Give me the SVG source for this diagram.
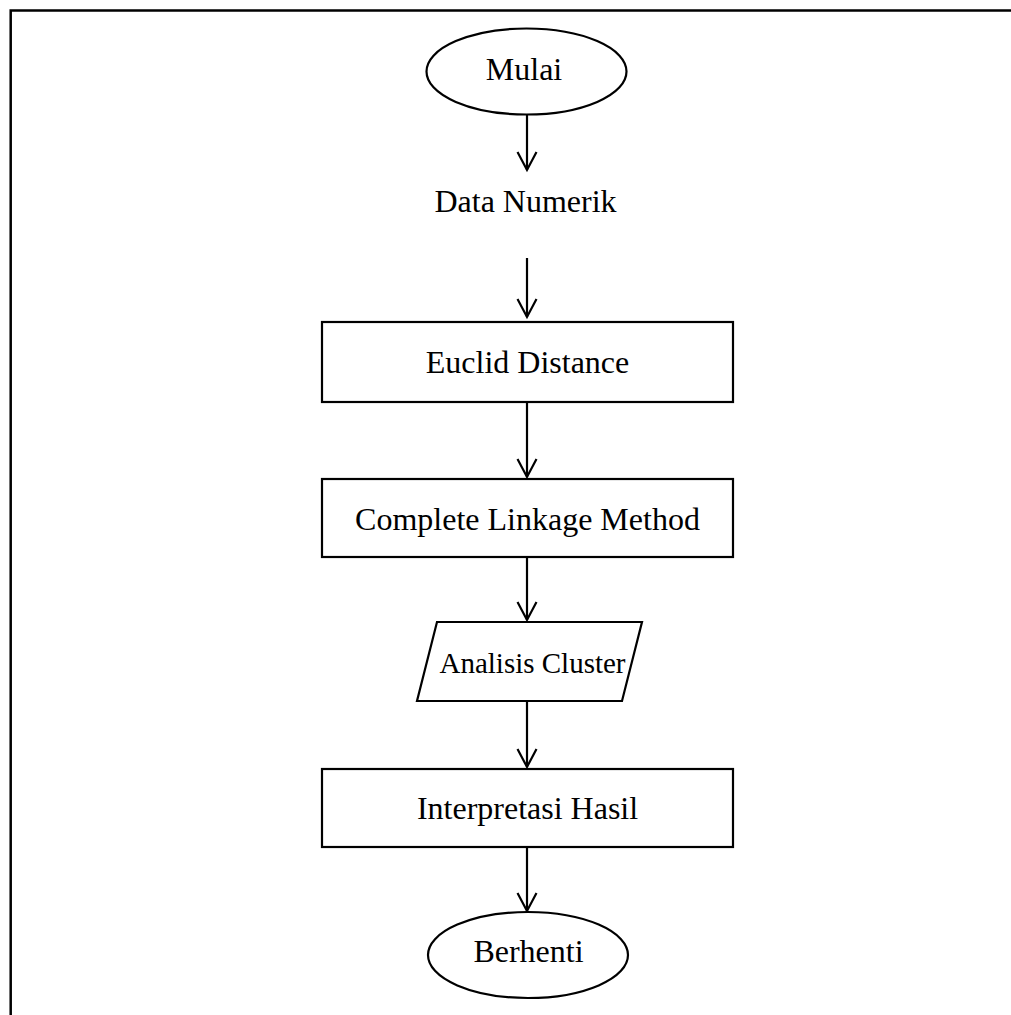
<svg xmlns="http://www.w3.org/2000/svg" width="1011" height="1015" viewBox="0 0 1011 1015">
<style>
.shape{fill:#fff;stroke:#000;stroke-width:2.2}
.t{font-family:"Liberation Serif","Times New Roman",serif;font-size:32px;fill:#000;text-anchor:middle}
.conn line,.conn path{stroke:#000;stroke-width:2.2;fill:none}
</style>
<rect width="1011" height="1015" fill="#fff"/>
<g id="frame"><path d="M10.7 1015 V10.5 H1011" fill="none" stroke="#000" stroke-width="2.5"/></g>
<g class="conn" id="connectors">
<line x1="527" y1="115" x2="527" y2="170"/><path d="M517.5 152 L527 170 L536.5 152"/>
<line x1="527" y1="258" x2="527" y2="317"/><path d="M517.5 299 L527 317 L536.5 299"/>
<line x1="527" y1="402" x2="527" y2="477"/><path d="M517.5 459 L527 477 L536.5 459"/>
<line x1="527" y1="557" x2="527" y2="620"/><path d="M517.5 602 L527 620 L536.5 602"/>
<line x1="527" y1="701" x2="527" y2="767"/><path d="M517.5 749 L527 767 L536.5 749"/>
<line x1="527" y1="847" x2="527" y2="911"/><path d="M517.5 893 L527 911 L536.5 893"/>
</g>
<g id="mulai"><ellipse class="shape" cx="526.5" cy="71.5" rx="100" ry="43"/><text class="t" x="524" y="80">Mulai</text></g>
<g id="data-numerik"><text class="t" x="525.5" y="212">Data Numerik</text></g>
<g id="euclid"><rect class="shape" x="322" y="322" width="411" height="80"/><text class="t" x="527.5" y="373">Euclid Distance</text></g>
<g id="complete"><rect class="shape" x="322" y="479" width="411" height="78"/><text class="t" x="527.5" y="530">Complete Linkage Method</text></g>
<g id="analisis"><polygon class="shape" points="437,622 642,622 622,701 417,701"/><text class="t" x="532.5" y="673" style="font-size:29px">Analisis Cluster</text></g>
<g id="interpretasi"><rect class="shape" x="322" y="769" width="411" height="78"/><text class="t" x="527.5" y="819">Interpretasi Hasil</text></g>
<g id="berhenti"><ellipse class="shape" cx="528" cy="955" rx="100" ry="43"/><text class="t" x="528.5" y="962">Berhenti</text></g>
</svg>
